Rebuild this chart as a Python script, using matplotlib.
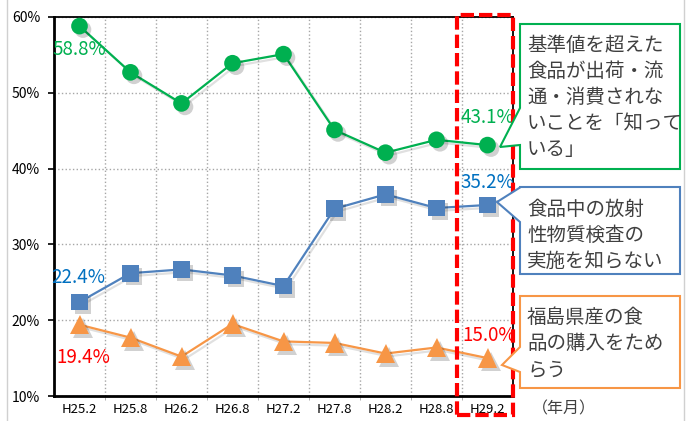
import numpy as np
import matplotlib.pyplot as plt
import matplotlib.patheffects as pe
from matplotlib.patches import Polygon, Rectangle

plt.rcParams['font.family'] = ['Noto Sans CJK JP', 'DejaVu Sans']

periodos = ['H25.2', 'H25.8', 'H26.2', 'H26.8', 'H27.2', 'H27.8', 'H28.2', 'H28.8', 'H29.2']
conhece = [58.8, 52.7, 48.6, 53.9, 55.1, 45.1, 42.1, 43.8, 43.1]
nao_sabe = [22.4, 26.2, 26.7, 25.9, 24.5, 34.7, 36.6, 34.8, 35.2]
hesita = [19.4, 17.7, 15.2, 19.5, 17.2, 17.0, 15.6, 16.4, 15.0]
yticks = [10, 20, 30, 40, 50, 60]

txt_verde = '基準値を超えた\n食品が出荷・流\n通・消費されな\nいことを「知って\nいる」'
txt_azul = '食品中の放射\n性物質検査の\n実施を知らない'
txt_laranja = '福島県産の食\n品の購入をため\nらう'

W, H = 688, 421
fig = plt.figure(figsize=(W/100, H/100), dpi=100)
ax = fig.add_axes([54/W, 1-396/H, (513-54)/W, (396-17)/H])

x = np.arange(len(periodos))
sombra_l = [pe.SimpleLineShadow(offset=(2, -2), alpha=0.12, shadow_color='k'), pe.Normal()]
sombra_m = [pe.SimplePatchShadow(offset=(2.5, -2.5), alpha=0.18, shadow_rgbFace='k'), pe.Normal()]

series = [(conhece, '#00B050', 'o', 12), (nao_sabe, '#4F81BD', 's', 12), (hesita, '#F79646', '^', 14)]
for vals, cor, mk, ms in series:
    ax.plot(x, vals, '-', color=cor, linewidth=1.6, path_effects=sombra_l, zorder=3)
    ax.plot(x, vals, linestyle='none', marker=mk, color=cor, markersize=ms,
            markeredgewidth=0, path_effects=sombra_m, zorder=4)

ax.set_xlim(-0.5, len(periodos)-0.5)
ax.set_ylim(10, 60)
ax.set_yticks(yticks)
ax.set_yticklabels([f'{v}%' for v in yticks], fontsize=10)
ax.set_xticks(x)
ax.set_xticklabels(periodos, fontsize=9.5)
ax.tick_params(axis='x', length=0, pad=5)
ax.tick_params(axis='y', length=4, width=1.2, pad=6)
ax.set_xticks(x[:-1]+0.5, minor=True)
ax.tick_params(axis='x', which='minor', length=3, color='#A0A0A0')
ax.grid(True, axis='y', color='#A6A6A6', linestyle=':', linewidth=1)
ax.grid(True, axis='x', which='minor', color='#A6A6A6', linestyle=':', linewidth=1)
ax.set_axisbelow(True)
for s in ['left', 'bottom']:
    ax.spines[s].set_linewidth(2)
for s in ['top', 'right']:
    ax.spines[s].set_linewidth(1.3)

# rótulos de dados
def rotulo(i, vals, txt, cor, dx, dy):
    ax.annotate(txt, (i, vals[i]), xytext=(dx, dy), textcoords='offset pixels',
                ha='center', va='center', color=cor, fontsize=13.5, zorder=6)

rotulo(0, conhece, '58.8%', '#00B050', 0, -23)
rotulo(0, nao_sabe, '22.4%', '#0070C0', -1, 25)
rotulo(0, hesita, '19.4%', '#FF0000', 4, -33)
rotulo(8, conhece, '43.1%', '#00B050', 0, 28)
rotulo(8, nao_sabe, '35.2%', '#0070C0', 0, 22)
rotulo(8, hesita, '15.0%', '#FF0000', 2, 23)

# retângulo tracejado vermelho
def fx(px):
    return px/W

def fy(py):
    return 1-py/H

fig.patches.append(Rectangle((fx(457), fy(415)), fx(512.5)-fx(457), fy(15)-fy(415),
                             transform=fig.transFigure, fill=False, edgecolor='#FF0000',
                             linewidth=3, linestyle=(0, (3.2, 1.2)), zorder=10))

# balões
def balao(x0, y0, x1, y1, b0, b1, ponta, cor, texto, ty):
    pts = [(x0, y0), (x1, y0), (x1, y1), (x0, y1), (x0, b1), ponta, (x0, b0)]
    fig.patches.append(Polygon([(fx(a), fy(b)) for a, b in pts], closed=True,
                               transform=fig.transFigure, facecolor='white',
                               edgecolor=cor, linewidth=1.5, zorder=11))
    fig.text(fx(x0+7), fy(ty), texto, ha='left', va='top', fontsize=14,
             color='#404040', linespacing=1.32, zorder=12)

balao(520, 24, 680, 169, 108, 145, (500, 147), '#00B050', txt_verde, 35)
balao(520, 187, 680, 274, 187.5, 222, (497, 202), '#4F81BD', txt_azul, 199)
balao(520, 296, 680, 388, 347, 372, (502, 365), '#F79646', txt_laranja, 307)

fig.text(fx(532), fy(409), '（年月）', ha='left', va='center', fontsize=11.5, color='#404040')

# borda lateral cinza
fig.add_artist(plt.Line2D([fx(6.5), fx(6.5)], [0, 1], color='#D0D0D0', linewidth=1))
fig.add_artist(plt.Line2D([fx(683.5), fx(683.5)], [0, 1], color='#D0D0D0', linewidth=1))

fig.savefig('out.png', dpi=100)
